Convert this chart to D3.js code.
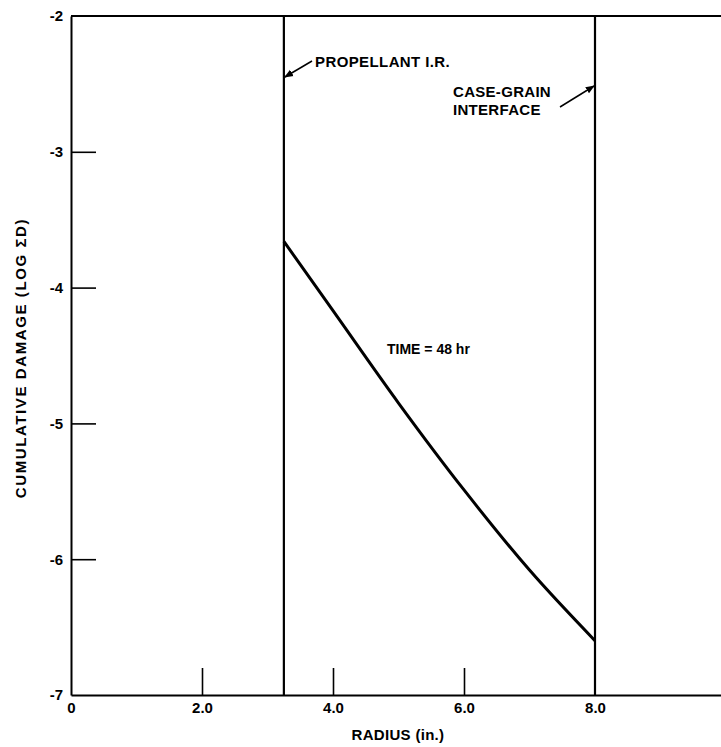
<!DOCTYPE html>
<html>
<head>
<meta charset="utf-8">
<script src="https://cdn.jsdelivr.net/npm/d3@7"></script>
<style>
  body { margin: 0; background: #fff; }
  text { font-family: "Liberation Sans", Arial, sans-serif; font-weight: bold; fill: #000; }
</style>
</head>
<body>
<script>
// chart size
let fullSVGWidth = 721;
let fullSVGHeight = 747;

// data
let radius = [3.25, 4.0, 5.0, 6.0, 7.0, 8.0];
let logDamage = [-3.66, -4.17, -4.85, -5.49, -6.08, -6.60];
let xTicks = [0, 2, 4, 6, 8];
let xTickLabels = ["0", "2.0", "4.0", "6.0", "8.0"];
let yTicks = [-2, -3, -4, -5, -6, -7];
let boundaries = [3.25, 8.0]; // propellant I.R., case-grain interface

let data = radius.map(function(r, i) {
    return { r: r, d: logDamage[i] };
});

let x = d3.scaleLinear().domain([0, 10]).range([71, 726]);
let y = d3.scaleLinear().domain([-7, -2]).range([695, 16]);

let svg = d3.select("body")
    .append("svg")
    .attr("width", fullSVGWidth)
    .attr("height", fullSVGHeight);

svg.append("defs").append("marker")
    .attr("id", "arrow")
    .attr("viewBox", "0 0 10 10")
    .attr("refX", 9)
    .attr("refY", 5)
    .attr("markerWidth", 9)
    .attr("markerHeight", 9)
    .attr("markerUnits", "userSpaceOnUse")
    .attr("orient", "auto")
    .append("path")
    .attr("d", "M0,1 L10,5 L0,9 Z")
    .attr("fill", "#000");

// top border
svg.append("line")
    .attr("x1", x(0)).attr("x2", x(10))
    .attr("y1", y(-2)).attr("y2", y(-2))
    .attr("stroke", "#000").attr("stroke-width", 2);

// y axis, ticks pointing inward
let yAxis = svg.append("g")
    .attr("transform", "translate(" + x(0) + ",0)")
    .call(d3.axisLeft(y)
        .tickValues(yTicks)
        .tickSizeInner(-25)
        .tickSizeOuter(0)
        .tickPadding(8)
        .tickFormat(function(d) { return "-" + Math.abs(d); }));

// x axis, ticks pointing inward
let xAxis = svg.append("g")
    .attr("transform", "translate(0," + y(-7) + ")")
    .call(d3.axisBottom(x)
        .tickValues(xTicks)
        .tickSizeInner(-27)
        .tickSizeOuter(0)
        .tickPadding(7)
        .tickFormat(function(d, i) { return xTickLabels[i]; }));

svg.selectAll(".domain").attr("stroke-width", 2);
svg.selectAll(".tick line").attr("stroke-width", 1.6);
svg.selectAll(".tick text")
    .style("font-size", "15px")
    .style("font-family", "'Liberation Sans', Arial, sans-serif")
    .style("font-weight", "bold");

// hide tick marks that fall on lines
yAxis.selectAll(".tick").filter(function(d) { return d === -2 || d === -7; })
    .select("line").remove();
xAxis.selectAll(".tick").filter(function(d) { return d === 0 || d === 8; })
    .select("line").remove();

// boundary lines
svg.selectAll(".boundary")
    .data(boundaries)
    .enter()
    .append("line")
    .attr("class", "boundary")
    .attr("x1", function(d) { return x(d); })
    .attr("x2", function(d) { return x(d); })
    .attr("y1", y(-2))
    .attr("y2", y(-7))
    .attr("stroke", "#000")
    .attr("stroke-width", 2.2);

// damage curve
let line = d3.line()
    .x(function(d) { return x(d.r); })
    .y(function(d) { return y(d.d); })
    .curve(d3.curveMonotoneX);

svg.append("path")
    .datum(data)
    .attr("d", line)
    .attr("fill", "none")
    .attr("stroke", "#000")
    .attr("stroke-width", 3);

// annotations
svg.append("text")
    .attr("x", 315).attr("y", 67)
    .style("font-size", "15px")
    .style("letter-spacing", "0.4px")
    .text("PROPELLANT I.R.");

svg.append("line")
    .attr("x1", 312).attr("y1", 61)
    .attr("x2", x(3.25) + 1).attr("y2", 77)
    .attr("stroke", "#000").attr("stroke-width", 1.5)
    .attr("marker-end", "url(#arrow)");

svg.append("text")
    .attr("x", 453).attr("y", 97)
    .style("font-size", "15px")
    .style("letter-spacing", "0.3px")
    .text("CASE-GRAIN");

svg.append("text")
    .attr("x", 453).attr("y", 115)
    .style("font-size", "15px")
    .style("letter-spacing", "0.3px")
    .text("INTERFACE");

svg.append("line")
    .attr("x1", 560).attr("y1", 107)
    .attr("x2", x(8.0) - 1).attr("y2", 86)
    .attr("stroke", "#000").attr("stroke-width", 1.5)
    .attr("marker-end", "url(#arrow)");

svg.append("text")
    .attr("x", 387).attr("y", 354)
    .style("font-size", "14px")
    .text("TIME = 48 hr");

// axis titles
svg.append("text")
    .attr("x", 398).attr("y", 740)
    .attr("text-anchor", "middle")
    .style("font-size", "15px")
    .style("letter-spacing", "0.3px")
    .text("RADIUS (in.)");

svg.append("text")
    .attr("transform", "translate(26,358) rotate(-90)")
    .attr("text-anchor", "middle")
    .style("font-size", "15px")
    .style("letter-spacing", "1.6px")
    .text("CUMULATIVE DAMAGE (LOG ΣD)");
</script>
</body>
</html>
